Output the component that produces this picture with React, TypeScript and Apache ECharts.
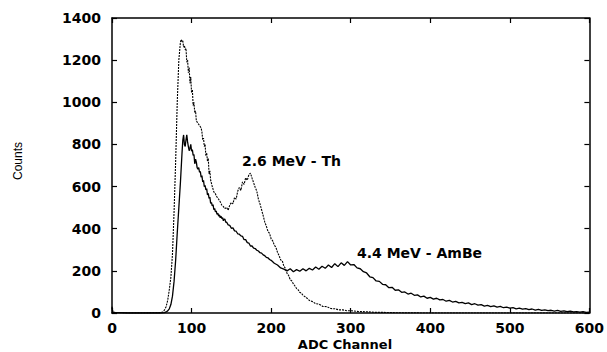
import React, { useEffect, useRef } from "react";
import * as echarts from "echarts";

// [ADC channel, counts]
const thPoints: number[][] = [[0,30],[1,5],[5,2],[20,0],[40,0],[60,2],[64,5],[66,15],[68,30],[70,60],[72,110],[74,170],[76,280],[78,480],[80,720],[82,1000],[84,1200],[86,1285],[87,1298],[88,1288],[89,1292],[90,1262],[91,1270],[92,1250],[93,1256],[94,1190],[95,1200],[96,1140],[97,1165],[98,1090],[99,1120],[100,1045],[101,1060],[102,985],[103,1000],[104,950],[105,960],[106,912],[108,900],[110,890],[112,878],[113,860],[114,822],[115,830],[116,790],[117,800],[118,745],[119,760],[120,720],[121,735],[122,660],[123,675],[124,630],[126,600],[128,575],[130,565],[132,550],[134,540],[136,528],[138,512],[140,505],[142,495],[144,502],[146,488],[148,512],[150,525],[152,518],[154,548],[156,540],[158,578],[160,596],[162,582],[164,622],[166,610],[168,642],[170,630],[172,656],[174,664],[176,640],[178,618],[180,596],[182,578],[184,540],[186,518],[188,490],[190,462],[192,432],[194,412],[196,388],[198,378],[200,352],[202,342],[204,322],[206,312],[208,288],[210,272],[212,252],[214,248],[216,222],[218,212],[220,188],[222,178],[224,158],[226,152],[228,138],[230,128],[232,116],[234,110],[236,98],[238,94],[240,84],[244,74],[248,60],[252,54],[256,44],[260,42],[265,31],[270,30],[275,21],[280,20],[285,15],[290,15],[295,11],[300,11],[310,7],[320,6],[330,3],[340,3],[360,1],[400,0],[600,0]];

const ambeRisePoints: number[][] = [[0,25],[1,3],[20,0],[60,0],[66,2],[68,5],[70,10],[72,20],[74,40],[76,80],[78,150],[80,250],[82,380],[84,500],[86,620],[88,760],[89,820],[90,845],[91,800],[92,790],[93,822],[94,845],[95,812],[96,790],[97,770],[98,782],[99,800],[100,768],[101,775],[102,748],[103,752],[104,708],[105,730],[106,716],[107,690],[108,682],[109,690],[110,668],[111,672],[112,645],[113,652],[114,622],[115,630],[116,600],[117,606],[118,584],[119,590],[120,560],[121,568],[122,544],[123,550],[124,520],[125,525],[126,508],[127,515],[128,490],[129,496],[130,480],[131,484],[132,468],[133,474],[134,460],[135,466],[136,452],[137,460],[138,448],[139,452],[140,438],[141,446],[142,444],[143,430],[144,432],[146,418],[148,416],[150,402],[152,404],[154,390],[156,388],[158,376],[160,374],[162,366],[164,364],[166,348],[168,348],[170,334],[172,332],[174,318],[176,318],[178,308],[180,306],[182,298],[184,294],[186,286],[188,284],[190,276],[192,272],[194,264],[196,262],[198,254]];

const ambeTailPoints: number[][] = [[200,250],[204,236],[208,228],[212,214],[216,208],[220,200],[224,210],[228,196],[232,206],[236,198],[240,210],[244,200],[248,212],[252,204],[256,218],[260,208],[264,222],[268,212],[272,228],[276,216],[280,234],[284,220],[288,238],[292,226],[296,244],[300,228],[304,230],[308,214],[312,210],[316,196],[320,190],[324,172],[328,168],[332,152],[336,150],[340,136],[344,134],[348,120],[352,122],[356,108],[360,110],[364,98],[368,100],[372,90],[376,94],[380,84],[384,86],[388,76],[392,80],[396,70],[400,74],[404,66],[408,70],[412,62],[416,64],[420,56],[424,60],[428,52],[432,55],[436,48],[440,50],[444,44],[448,48],[452,40],[456,44],[460,37],[464,40],[468,33],[472,36],[476,30],[480,34],[484,28],[488,31],[492,25],[496,28],[500,23],[504,26],[508,20],[512,23],[516,18],[520,21],[524,16],[528,19],[532,14],[536,17],[540,12],[544,15],[548,11],[552,13],[556,9],[560,12],[564,8],[568,10],[572,6],[576,9],[580,5],[584,7],[588,4],[592,6],[596,3],[600,4]];

const annotations = ["2.6 MeV - Th", "4.4 MeV - AmBe"];
const xTitle = "ADC Channel";
const yTitle = "Counts";

export default function App() {
  const ref = useRef<HTMLDivElement>(null);
  useEffect(() => {
    const chart = echarts.init(ref.current!, null, { renderer: "svg" });
    const lbl = { color: "#000", fontFamily: "DejaVu Sans", fontWeight: "bold" as const, fontSize: 14, formatter: (v: number) => String(v) };
    const line = { show: true, onZero: false, lineStyle: { color: "#000", width: 1.5 } };
    const tick = { show: true, inside: true, length: 5, lineStyle: { color: "#000", width: 1.2 } };
    chart.setOption({
      animation: false,
      backgroundColor: "#fff",
      grid: { left: 112, right: 15, top: 18, bottom: 39 },
      xAxis: [
        { type: "value", min: 0, max: 600, interval: 100, position: "bottom", axisLine: line, axisTick: tick, axisLabel: { ...lbl, margin: 8 }, splitLine: { show: false } },
        { type: "value", min: 0, max: 600, interval: 100, position: "top", axisLine: line, axisTick: tick, axisLabel: { show: false }, splitLine: { show: false } },
      ],
      yAxis: [
        { type: "value", min: 0, max: 1400, interval: 200, position: "left", axisLine: line, axisTick: tick, axisLabel: { ...lbl, margin: 11 }, splitLine: { show: false } },
        { type: "value", min: 0, max: 1400, interval: 200, position: "right", axisLine: line, axisTick: tick, axisLabel: { show: false }, splitLine: { show: false } },
      ],
      series: [
        { type: "line", name: "Th", data: thPoints, showSymbol: false, xAxisIndex: 0, yAxisIndex: 0, lineStyle: { color: "#000", width: 1.1, type: [2, 1] } },
        { type: "line", name: "AmBe", data: [...ambeRisePoints, ...ambeTailPoints], showSymbol: false, xAxisIndex: 0, yAxisIndex: 0, lineStyle: { color: "#000", width: 1.3 } },
      ],
      graphic: [
        { type: "text", left: 242, top: 154, style: { text: annotations[0], fill: "#000", font: "bold 14px 'DejaVu Sans'" } },
        { type: "text", left: 357, top: 246, style: { text: annotations[1], fill: "#000", font: "bold 14px 'DejaVu Sans'" } },
        { type: "text", x: 345, y: 344, style: { text: xTitle, fill: "#000", font: "bold 13px 'DejaVu Sans'", align: "center", verticalAlign: "middle" } },
        { type: "text", x: 18, y: 161, rotation: Math.PI / 2, style: { text: yTitle, fill: "#000", font: "12px 'Liberation Sans', sans-serif", align: "center", verticalAlign: "middle" } },
      ],
    });
    return () => chart.dispose();
  }, []);
  return <div ref={ref} style={{ position: "fixed", left: 0, top: 0, width: 607, height: 352, background: "#fff" }} />;
}
